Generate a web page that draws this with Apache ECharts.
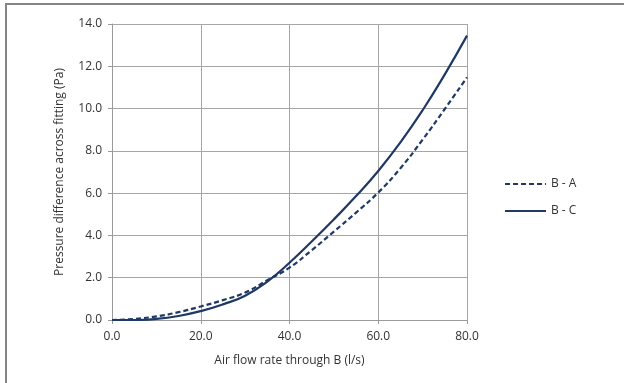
<!DOCTYPE html>
<html>
<head>
<meta charset="utf-8">
<script src="https://cdn.jsdelivr.net/npm/echarts@6/dist/echarts.min.js"></script>
<style>
  html, body { margin: 0; padding: 0; background: #fff; }
  #chart { width: 624px; height: 383px; }
</style>
</head>
<body>
<div id="chart"></div>
<script>
// air flow through B (l/s)
var flow = [0, 5, 10, 15, 20, 25, 30, 35, 40, 45, 50, 55, 60, 65, 70, 75, 80];
// pressure difference (Pa)
var bA = [0, 0.05, 0.17, 0.37, 0.64, 0.94, 1.3, 1.88, 2.48, 3.3, 4.18, 5.08, 6.03, 7.18, 8.53, 9.98, 11.48];
var bC = [0, 0, 0.05, 0.19, 0.42, 0.74, 1.15, 1.82, 2.71, 3.71, 4.76, 5.86, 7.05, 8.4, 9.92, 11.62, 13.45];
var seriesNames = ['B - A', 'B - C'];

var FONT = '"Open Sans", "Liberation Sans", sans-serif';
var LINE = '#1f3864';
var TXT = '#333333';

function pairs(xs, ys) {
  return xs.map(function (x, i) { return [x, ys[i]]; });
}

var chart = echarts.init(document.getElementById('chart'));
chart.setOption({
  animation: false,
  backgroundColor: '#fff',
  textStyle: { fontFamily: FONT },
  graphic: [{
    type: 'rect',
    shape: { x: 6, y: 4, width: 640, height: 400 },
    style: { fill: 'none', stroke: '#858585', lineWidth: 2 }
  }],
  grid: { left: 112, right: 157, top: 24, bottom: 63 },
  legend: {
    orient: 'vertical',
    left: 504,
    top: 178,
    padding: 0,
    itemGap: 15,
    itemWidth: 41,
    itemHeight: 12,
    itemStyle: { opacity: 0 },
    textStyle: { fontFamily: FONT, fontSize: 12, color: TXT },
    data: seriesNames
  },
  xAxis: {
    type: 'value',
    min: 0, max: 80, interval: 20,
    name: 'Air flow rate through B (l/s)',
    nameLocation: 'middle',
    nameGap: 35,
    nameTextStyle: { fontFamily: FONT, fontSize: 12, color: TXT },
    axisLine: { show: true, lineStyle: { color: '#9a9a9a', width: 1 } },
    axisTick: { show: true, inside: false, length: 4, lineStyle: { color: '#9a9a9a' } },
    axisLabel: { fontFamily: FONT, fontSize: 12, color: TXT, margin: 11,
      formatter: function (v) { return v.toFixed(1); } },
    splitLine: { show: true, lineStyle: { color: '#a6a6a6', width: 1 } }
  },
  yAxis: {
    type: 'value',
    min: 0, max: 14, interval: 2,
    name: 'Pressure difference across fitting (Pa)',
    nameLocation: 'middle',
    nameGap: 46,
    nameTextStyle: { fontFamily: FONT, fontSize: 12, color: TXT },
    axisLine: { show: true, lineStyle: { color: '#9a9a9a', width: 1 } },
    axisTick: { show: true, length: 4, lineStyle: { color: '#9a9a9a' } },
    axisLabel: { fontFamily: FONT, fontSize: 12, color: TXT, margin: 10,
      formatter: function (v) { return v.toFixed(1); } },
    splitLine: { show: true, lineStyle: { color: '#a6a6a6', width: 1 } }
  },
  series: [
    {
      name: seriesNames[0],
      type: 'line',
      smooth: 0.5,
      symbol: 'none',
      data: pairs(flow, bA),
      itemStyle: { color: LINE },
      lineStyle: { color: LINE, width: 2.2, type: [5, 3] }
    },
    {
      name: seriesNames[1],
      type: 'line',
      smooth: 0.5,
      symbol: 'none',
      data: pairs(flow, bC),
      itemStyle: { color: LINE },
      lineStyle: { color: LINE, width: 2.2, type: 'solid' }
    }
  ]
});
</script>
</body>
</html>
